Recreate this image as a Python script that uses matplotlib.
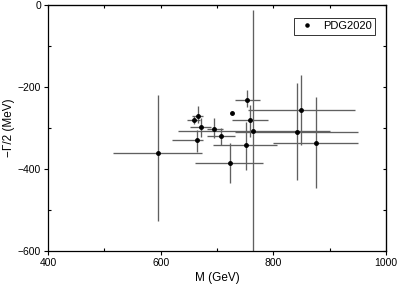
import numpy as np
import matplotlib
matplotlib.use("Agg")
import matplotlib.pyplot as plt

plt.rcParams["font.family"] = ["Liberation Sans", "DejaVu Sans"]

# PDG2020 pole positions: mass M (GeV) and -Gamma/2 (MeV), with error ranges
mass = [595, 658.6, 665.7, 671, 664, 694.7, 706.6, 727, 723, 754, 750.6, 758.6, 764.5, 842, 849.7, 875.8]
m_lo = [515, 647, 655, 652, 621, 681.6, 681.6, 727, 661, 732, 693, 726, 631, 732, 755, 800]
m_hi = [673, 670, 675, 690, 675, 711, 732, 727, 782, 776, 806, 791, 900, 950, 945, 951]
width = [-362, -280, -270, -297, -329, -302, -320, -264, -386, -231, -342, -280.5, -307, -310, -257, -336]
w_lo = [-528, -290, -288, -321, -358, -325, -341.5, -264, -434, -249, -402, -321, -610, -427, -341, -447]
w_hi = [-220, -270, -246, -276, -305, -276, -300, -264, -337, -207, -285, -244, -12, -191, -171, -224]

mass = np.array(mass)
width = np.array(width)
xerr = [mass - np.array(m_lo), np.array(m_hi) - mass]
yerr = [width - np.array(w_lo), np.array(w_hi) - width]

fig = plt.figure(figsize=(3.99, 2.91), dpi=100)
ax = fig.add_axes([0.1203, 0.1375, 0.8471, 0.8453])

ax.errorbar(mass, width, xerr=xerr, yerr=yerr, fmt="none", ecolor="#606060",
            elinewidth=0.95, capsize=0, zorder=2)
ax.plot(mass, width, "o", color="black", markersize=2.5, label="PDG2020", zorder=3)

ax.set_xlim(400, 1000)
ax.set_ylim(-600, 0)
ax.set_xticks([400, 600, 800, 1000])
ax.set_xticks([500, 700, 900], minor=True)
ax.set_yticks([-600, -400, -200, 0])
ax.set_yticks([-500, -300, -100], minor=True)
ax.tick_params(which="major", direction="out", length=3, width=0.8, labelsize=7.5, pad=2)
ax.tick_params(which="minor", direction="in", length=2, width=0.8)

for side in ["top", "right", "left", "bottom"]:
    ax.spines[side].set_linewidth(0.9)

sec_x = ax.secondary_xaxis("top")
sec_x.set_xticks([400, 500, 600, 700, 800, 900, 1000])
sec_x.tick_params(direction="in", length=2, width=0.8, labeltop=False)
sec_y = ax.secondary_yaxis("right")
sec_y.set_yticks([-600, -500, -400, -300, -200, -100, 0])
sec_y.tick_params(direction="in", length=2, width=0.8, labelright=False)

ax.set_xlabel("M (GeV)", fontsize=8.5, labelpad=3)
ax.set_ylabel("\u2212\u0393/2 (MeV)", fontsize=8.5, labelpad=2)

leg = ax.legend(loc="upper right", bbox_to_anchor=(0.985, 0.97), fontsize=8,
                frameon=True, fancybox=False, edgecolor="black", handlelength=1.6,
                handletextpad=0.7, borderpad=0.3, markerscale=0.9)
leg.get_frame().set_linewidth(0.7)

fig.savefig("out.png", dpi=100)
